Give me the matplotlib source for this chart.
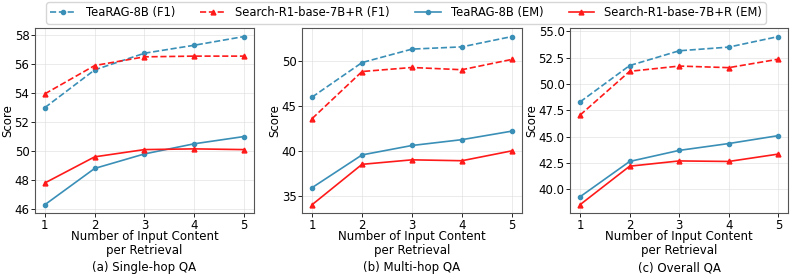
import matplotlib
matplotlib.use("Agg")
import matplotlib.pyplot as plt
from matplotlib.ticker import MultipleLocator, FormatStrFormatter

x = [1, 2, 3, 4, 5]

# panel (a) Single-hop QA
single_tea_f1 = [53.0, 55.6, 56.75, 57.3, 57.9]
single_sr_f1 = [53.95, 55.9, 56.5, 56.55, 56.55]
single_tea_em = [46.3, 48.8, 49.8, 50.5, 51.0]
single_sr_em = [47.8, 49.6, 50.1, 50.15, 50.1]

# panel (b) Multi-hop QA
multi_tea_f1 = [46.0, 49.85, 51.35, 51.6, 52.75]
multi_sr_f1 = [43.6, 48.85, 49.3, 49.05, 50.2]
multi_tea_em = [35.9, 39.55, 40.6, 41.25, 42.2]
multi_sr_em = [34.0, 38.5, 39.0, 38.9, 40.0]

# panel (c) Overall QA
overall_tea_f1 = [48.3, 51.75, 53.15, 53.5, 54.5]
overall_sr_f1 = [47.05, 51.2, 51.7, 51.55, 52.35]
overall_tea_em = [39.3, 42.65, 43.7, 44.35, 45.1]
overall_sr_em = [38.55, 42.2, 42.7, 42.65, 43.35]

panels = [
    ("(a) Single-hop QA", single_tea_f1, single_sr_f1, single_tea_em, single_sr_em),
    ("(b) Multi-hop QA", multi_tea_f1, multi_sr_f1, multi_tea_em, multi_sr_em),
    ("(c) Overall QA", overall_tea_f1, overall_sr_f1, overall_tea_em, overall_sr_em),
]
y_steps = [2, 5, 2.5]
y_formats = ["%d", "%d", "%.1f"]

BLUE = "#3a8fb7"
RED = "#ff1a1a"

fig = plt.figure(figsize=(7.93, 2.76), dpi=100)
lefts = [0.0441, 0.381, 0.719]
widths = [0.276, 0.277, 0.275]

handles = None
for i, (title, tf1, sf1, tem, sem) in enumerate(panels):
    ax = fig.add_axes([lefts[i], 0.228, widths[i], 0.670])
    h1, = ax.plot(x, tf1, "--o", color=BLUE, lw=1.2, ms=3, label="TeaRAG-8B (F1)")
    h2, = ax.plot(x, sf1, "--^", color=RED, lw=1.2, ms=3.5, label="Search-R1-base-7B+R (F1)")
    h3, = ax.plot(x, tem, "-o", color=BLUE, lw=1.2, ms=3, label="TeaRAG-8B (EM)")
    h4, = ax.plot(x, sem, "-^", color=RED, lw=1.2, ms=3.5, label="Search-R1-base-7B+R (EM)")
    handles = [h1, h2, h3, h4]
    ax.set_xticks(x)
    ax.yaxis.set_major_locator(MultipleLocator(y_steps[i]))
    ax.yaxis.set_major_formatter(FormatStrFormatter(y_formats[i]))
    ax.tick_params(labelsize=8.5, length=3, width=0.6)
    ax.tick_params(axis="x", pad=1)
    ax.tick_params(axis="y", pad=1)
    ax.grid(True, color="#dddddd", lw=0.6, alpha=0.7)
    for s in ax.spines.values():
        s.set_color("#555555")
        s.set_linewidth(0.8)
    ax.set_ylabel("Score", fontsize=8.5, labelpad=0)
    ax.set_xlabel("Number of Input Content\nper Retrieval", fontsize=8.5, labelpad=-1, linespacing=1.05)
    cx = lefts[i] + widths[i] / 2
    fig.text(cx, 0.029, title, ha="center", va="center", fontsize=8.5)

fig.legend(handles=handles, loc="center", bbox_to_anchor=(0.512, 0.953), ncol=4,
           fontsize=8.3, frameon=True, edgecolor="#cccccc", columnspacing=2.2,
           handlelength=2.2, handletextpad=0.85, borderpad=0.35)

fig.savefig("out.png", dpi=100)
